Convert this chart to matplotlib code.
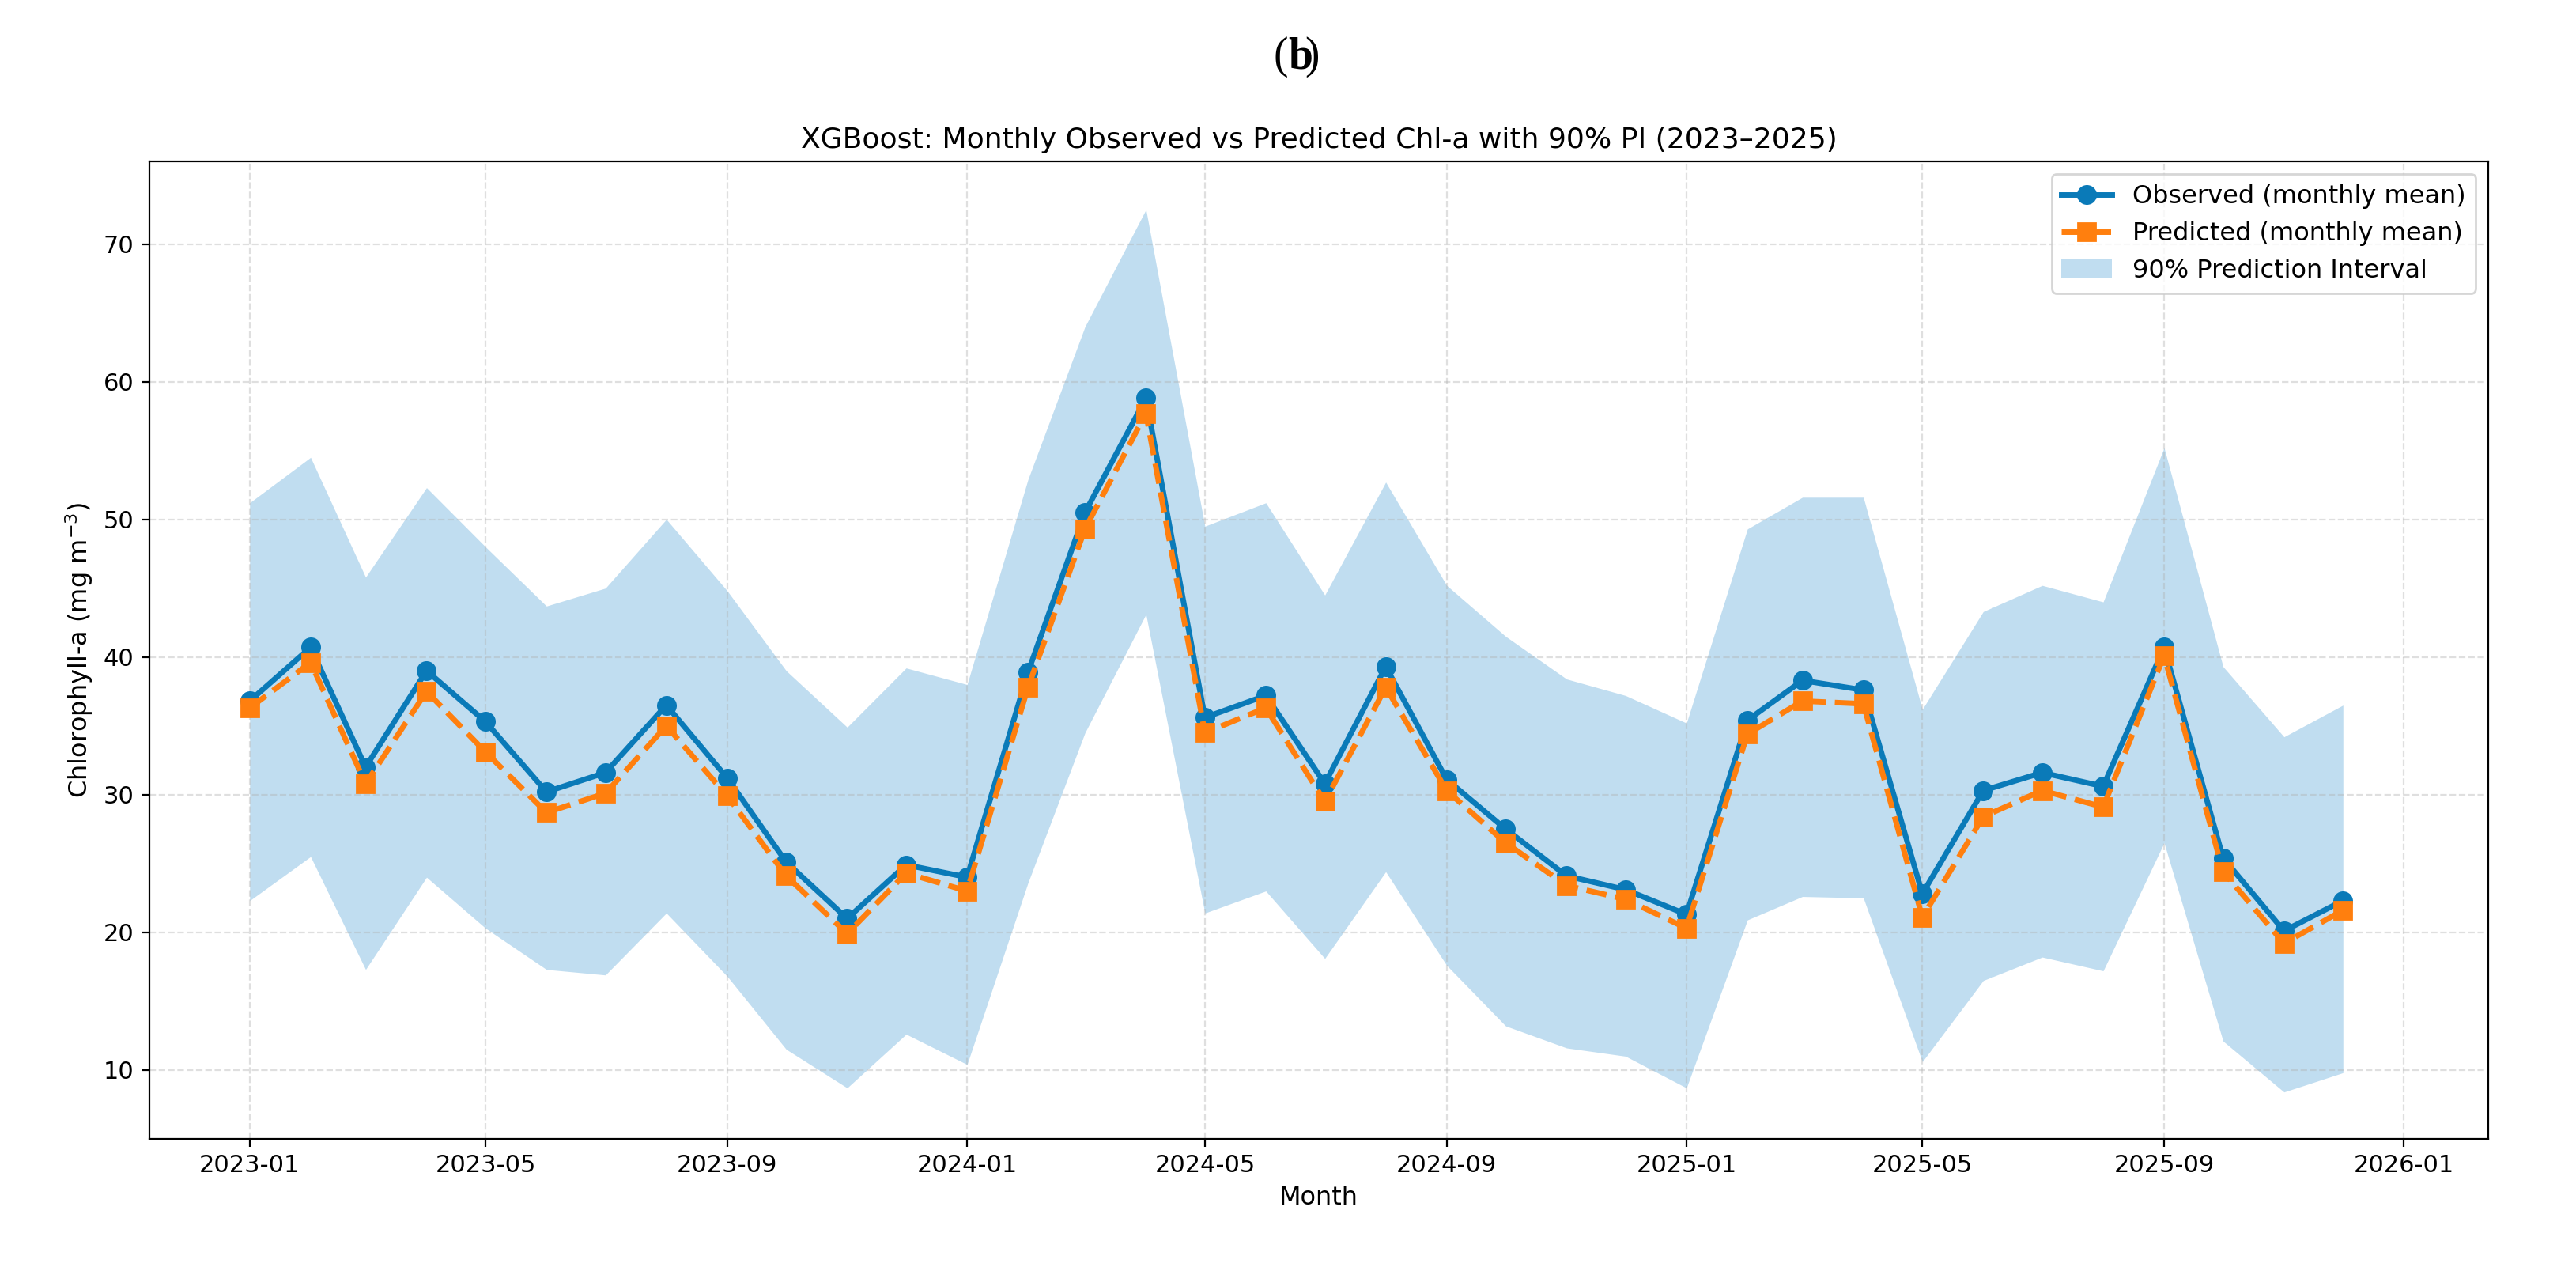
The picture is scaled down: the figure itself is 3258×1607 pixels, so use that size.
import matplotlib
matplotlib.use("Agg")
import matplotlib.pyplot as plt
import matplotlib.dates as mdates
import numpy as np
import pandas as pd

months = pd.date_range("2023-01-01", periods=36, freq="MS")
observed = [36.8, 40.7, 32.0, 39.0, 35.3, 30.2, 31.6, 36.5, 31.2, 25.1, 21.0, 24.9,
            24.0, 38.9, 50.5, 58.8, 35.6, 37.2, 30.8, 39.3, 31.1, 27.5, 24.1, 23.1,
            21.3, 35.4, 38.3, 37.6, 22.8, 30.3, 31.6, 30.6, 40.7, 25.4, 20.1, 22.3]
predicted = [36.3, 39.6, 30.8, 37.5, 33.1, 28.7, 30.1, 35.0, 29.9, 24.1, 19.9, 24.3,
             23.0, 37.8, 49.3, 57.7, 34.5, 36.3, 29.5, 37.8, 30.3, 26.5, 23.4, 22.4,
             20.3, 34.4, 36.8, 36.6, 21.1, 28.4, 30.3, 29.1, 40.1, 24.4, 19.2, 21.6]
upper = [51.2, 54.5, 45.8, 52.3, 48.0, 43.7, 45.0, 50.0, 44.8, 39.0, 34.9, 39.2,
         38.0, 52.9, 64.0, 72.5, 49.5, 51.2, 44.5, 52.7, 45.2, 41.5, 38.4, 37.2,
         35.2, 49.3, 51.6, 51.6, 36.2, 43.3, 45.2, 44.0, 55.2, 39.3, 34.2, 36.5]
lower = [22.3, 25.5, 17.3, 24.0, 20.3, 17.3, 16.9, 21.4, 16.8, 11.5, 8.7, 12.6,
         10.4, 23.6, 34.5, 43.1, 21.4, 23.0, 18.1, 24.4, 17.6, 13.2, 11.6, 11.0,
         8.7, 20.9, 22.6, 22.5, 10.6, 16.5, 18.2, 17.2, 26.5, 12.1, 8.4, 9.8]

fig = plt.figure(figsize=(16.29, 8.035), dpi=200)
ax = fig.add_axes([0.058, 0.104, 0.908, 0.769])
ax.fill_between(months, lower, upper, color="#a6cfea", alpha=0.7, linewidth=0,
                label="90% Prediction Interval")
ax.plot(months, observed, "-o", color="#0a7ab8", lw=2.5, ms=8, label="Observed (monthly mean)")
ax.plot(months, predicted, "--s", color="#ff7f0e", lw=2.5, ms=8, label="Predicted (monthly mean)")
ax.set_ylim(5, 76)
ax.set_yticks([10, 20, 30, 40, 50, 60, 70])
ax.xaxis.set_major_locator(mdates.MonthLocator(bymonth=[1, 5, 9]))
ax.xaxis.set_major_formatter(mdates.DateFormatter("%Y-%m"))
ax.set_xlim(pd.Timestamp("2022-11-11"), pd.Timestamp("2026-02-13"))
ax.grid(True, linestyle="--", alpha=0.4)
ax.tick_params(labelsize=11)
ax.set_xlabel("Month", fontsize=11.5)
ax.set_ylabel("Chlorophyll-a (mg m$^{-3}$)", fontsize=11.5)
ax.set_title("XGBoost: Monthly Observed vs Predicted Chl-a with 90% PI (2023–2025)", fontsize=13)
h, l = ax.get_legend_handles_labels()
ax.legend([h[1], h[2], h[0]], [l[1], l[2], l[0]], loc="upper right", fontsize=11.5)
fig.text(0.5, 0.955, "(", ha="right", va="center", fontsize=20, family="Liberation Serif")
fig.text(0.5, 0.955, "b", ha="left", va="center", fontsize=20, family="Liberation Serif", weight="bold")
fig.text(0.5065, 0.955, ")", ha="left", va="center", fontsize=20, family="Liberation Serif")
fig.savefig("out.png")
